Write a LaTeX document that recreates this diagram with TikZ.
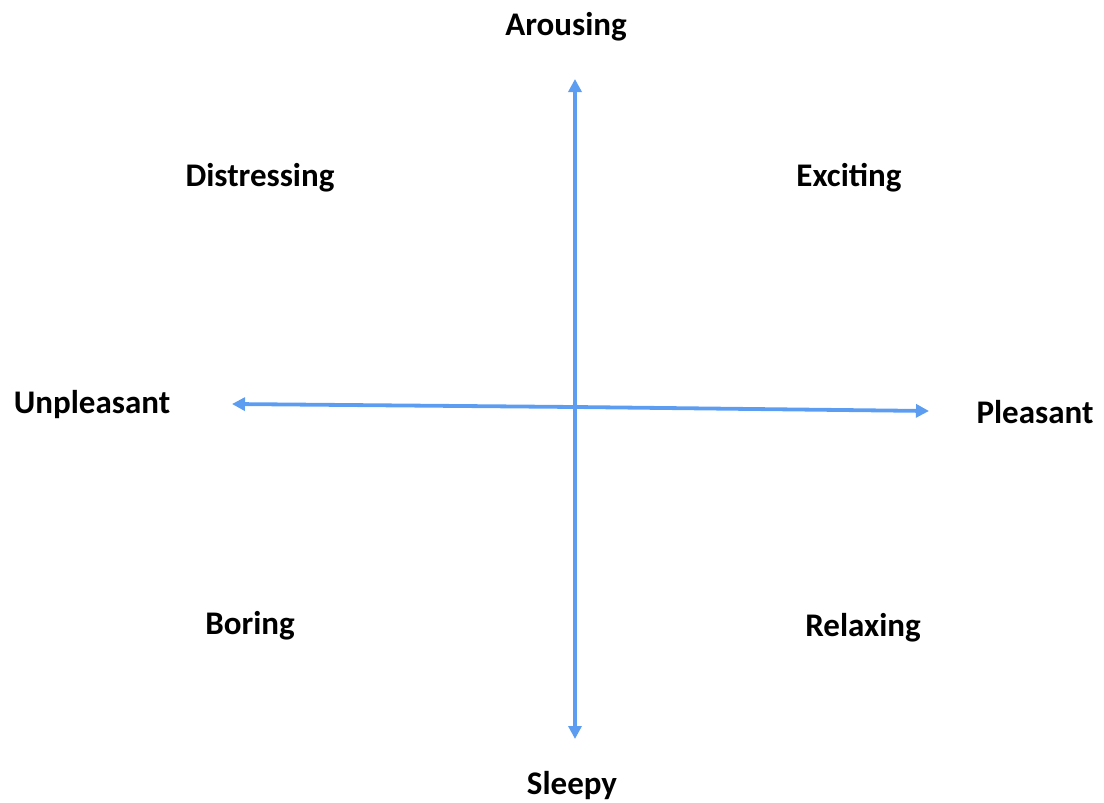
\documentclass[tikz,border=0pt]{standalone}
\usepackage{fontspec}
\setmainfont{Carlito}
\usepackage{xcolor}
\usetikzlibrary{arrows.meta}
\definecolor{axisblue}{HTML}{5C9DF2}

\begin{document}
\begin{tikzpicture}[
  x=1pt, y=-1pt,
  >={Triangle[length=13pt,width=13pt]},
  line cap=butt,
  axis/.style={->, draw=axisblue, line width=3.8pt},
  every node/.style={font=\fontsize{33}{38}\selectfont\bfseries, inner sep=0pt}
]
  \useasboundingbox (0,0) rectangle (1104,803);

  % Axis endpoints
  \coordinate (top)    at (575, 79);
  \coordinate (bottom) at (575,739);
  \coordinate (left)   at (232,404);
  \coordinate (right)  at (929,411);
  \coordinate (mid)    at (575,407);

  % Axes
  \draw[axis] (mid) -- (top);
  \draw[axis] (mid) -- (bottom);
  \draw[axis] (mid) -- (left);
  \draw[axis] (mid) -- (right);

  % Labels
  \node (arousing)    at (566, 27) {Arousing};
  \node (sleepy)      at (572,786) {Sleepy};
  \node (unpleasant)  at ( 92,405) {Unpleasant};
  \node (pleasant)    at (1035,412) {Pleasant};
  \node (distressing) at (260,178) {Distressing};
  \node (exciting)    at (849,178) {Exciting};
  \node (boring)      at (250,626) {Boring};
  \node (relaxing)    at (863,628) {Relaxing};
\end{tikzpicture}
\end{document}
